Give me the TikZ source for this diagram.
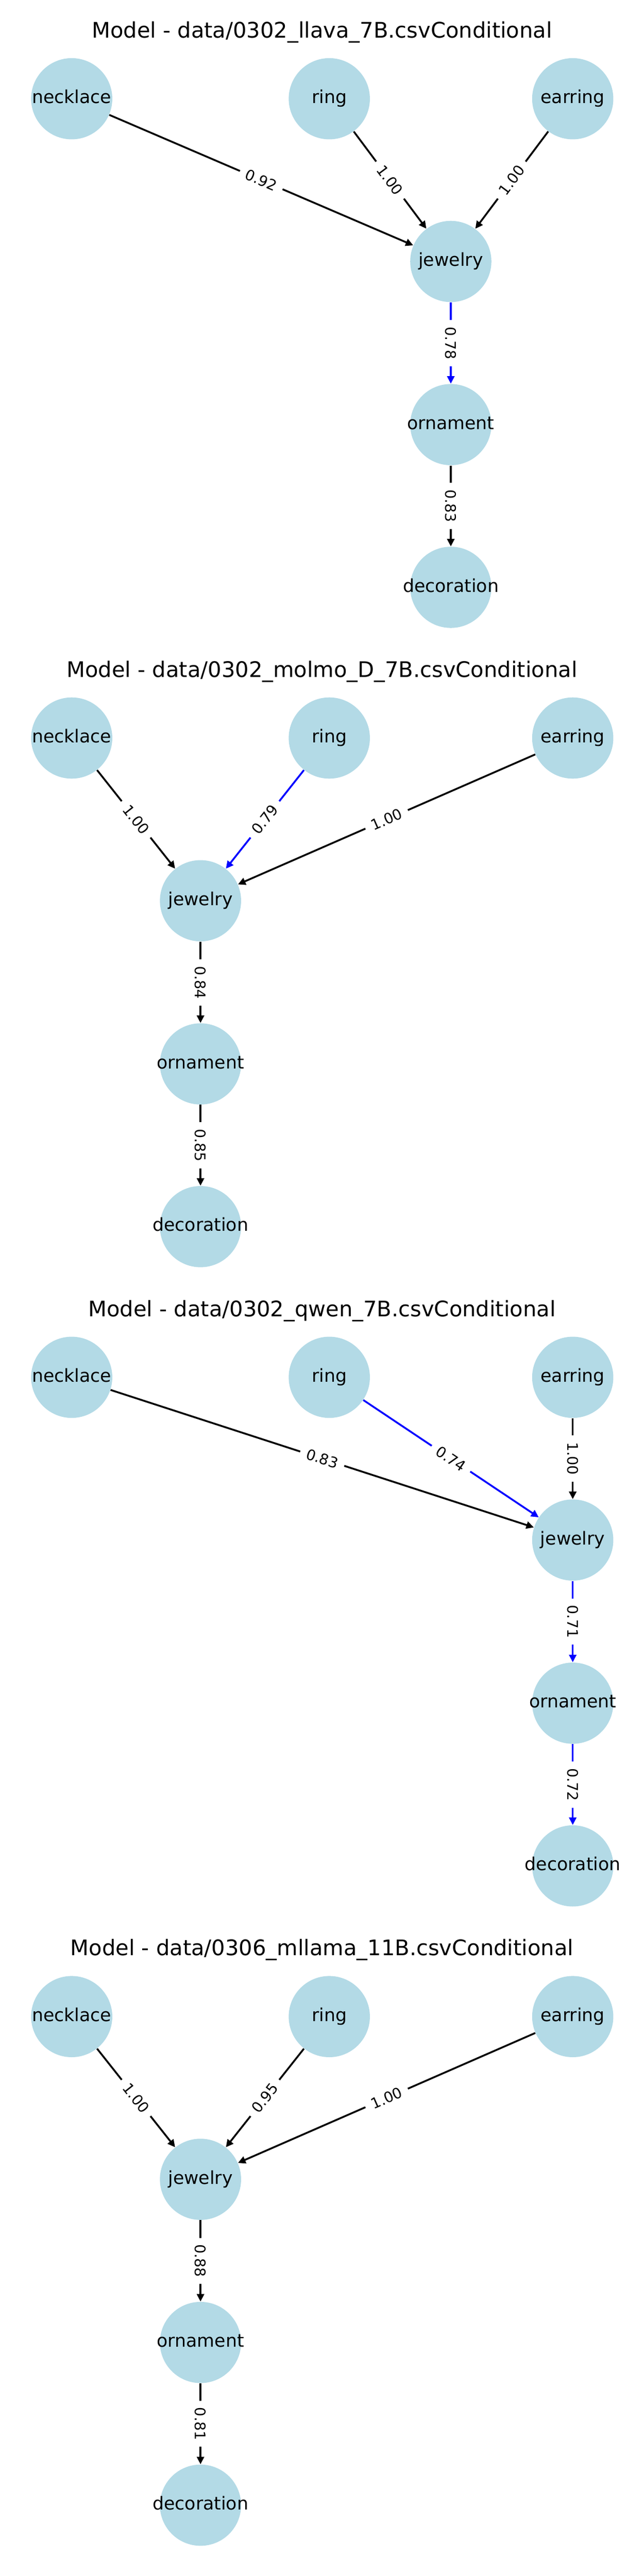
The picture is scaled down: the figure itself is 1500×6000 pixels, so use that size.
\documentclass[tikz,border=0pt]{standalone}
\usepackage{fontspec}
\setmainfont{DejaVu Sans}
\usetikzlibrary{arrows.meta}
\definecolor{nodeblue}{RGB}{179,218,230}
\definecolor{edgeblue}{RGB}{0,0,255}

\begin{document}
\begin{tikzpicture}[x=0.01cm, y=-0.01cm,
		vert/.style={circle, fill=nodeblue, minimum size=1.89cm, inner sep=0pt, label={[vtext]center:#1}},
		vtext/.style={inner sep=0pt, text height=0.8em, text depth=0.18em, font=\fontsize{11.86}{14}\selectfont},
		hdr/.style={anchor=base, font=\fontsize{14.2}{17}\selectfont},
		edge/.style={-{Triangle[length=5pt, width=4.8pt]}, line width=1.2pt},
		wtbox/.style={fill=white, text=black, inner xsep=4.5pt, inner ysep=1.5pt, font=\fontsize{9.7}{11}\selectfont},
		wt/.style={wtbox, sloped},
		wtv/.style={wtbox, rotate=-90}]
		\useasboundingbox (0,0) rectangle (1500,6000);
		
		\node[hdr] (ttl1) at (750,88) {Model - data/0302\_llava\_7B.csvConditional};
		\node[vert=necklace] (neck1) at (167,230) {};
		\node[vert=ring] (ring1) at (767,230) {};
		\node[vert=earring] (ear1) at (1334,230) {};
		\node[vert=jewelry] (jew1) at (1050,609) {};
		\node[vert=ornament] (orn1) at (1050,989) {};
		\node[vert=decoration] (dec1) at (1050,1368) {};
		
		\draw[edge] (neck1) -- node[wt] {0.92} (jew1);
		\draw[edge] (ring1) -- node[wt] {1.00} (jew1);
		\draw[edge] (ear1) -- node[wt] {1.00} (jew1);
		\draw[edge, edgeblue] (jew1) -- node[wtv] {0.78} (orn1);
		\draw[edge] (orn1) -- node[wtv] {0.83} (dec1);
		
		\node[hdr] (ttl2) at (750,1577) {Model - data/0302\_molmo\_D\_7B.csvConditional};
		\node[vert=necklace] (neck2) at (167,1719) {};
		\node[vert=ring] (ring2) at (767,1719) {};
		\node[vert=earring] (ear2) at (1334,1719) {};
		\node[vert=jewelry] (jew2) at (467,2098) {};
		\node[vert=ornament] (orn2) at (467,2478) {};
		\node[vert=decoration] (dec2) at (467,2857) {};
		
		\draw[edge] (neck2) -- node[wt] {1.00} (jew2);
		\draw[edge, edgeblue] (ring2) -- node[wt] {0.79} (jew2);
		\draw[edge] (ear2) -- node[wt] {1.00} (jew2);
		\draw[edge] (jew2) -- node[wtv] {0.84} (orn2);
		\draw[edge] (orn2) -- node[wtv] {0.85} (dec2);
		
		\node[hdr] (ttl3) at (750,3066) {Model - data/0302\_qwen\_7B.csvConditional};
		\node[vert=necklace] (neck3) at (167,3208) {};
		\node[vert=ring] (ring3) at (767,3208) {};
		\node[vert=earring] (ear3) at (1334,3208) {};
		\node[vert=jewelry] (jew3) at (1334,3587) {};
		\node[vert=ornament] (orn3) at (1334,3967) {};
		\node[vert=decoration] (dec3) at (1334,4346) {};
		
		\draw[edge] (neck3) -- node[wt] {0.83} (jew3);
		\draw[edge, edgeblue] (ring3) -- node[wt] {0.74} (jew3);
		\draw[edge] (ear3) -- node[wtv] {1.00} (jew3);
		\draw[edge, edgeblue] (jew3) -- node[wtv] {0.71} (orn3);
		\draw[edge, edgeblue] (orn3) -- node[wtv] {0.72} (dec3);
		
		\node[hdr] (ttl4) at (750,4555) {Model - data/0306\_mllama\_11B.csvConditional};
		\node[vert=necklace] (neck4) at (167,4697) {};
		\node[vert=ring] (ring4) at (767,4697) {};
		\node[vert=earring] (ear4) at (1334,4697) {};
		\node[vert=jewelry] (jew4) at (467,5076) {};
		\node[vert=ornament] (orn4) at (467,5456) {};
		\node[vert=decoration] (dec4) at (467,5835) {};
		
		\draw[edge] (neck4) -- node[wt] {1.00} (jew4);
		\draw[edge] (ring4) -- node[wt] {0.95} (jew4);
		\draw[edge] (ear4) -- node[wt] {1.00} (jew4);
		\draw[edge] (jew4) -- node[wtv] {0.88} (orn4);
		\draw[edge] (orn4) -- node[wtv] {0.81} (dec4);
		
\end{tikzpicture}
\end{document}
